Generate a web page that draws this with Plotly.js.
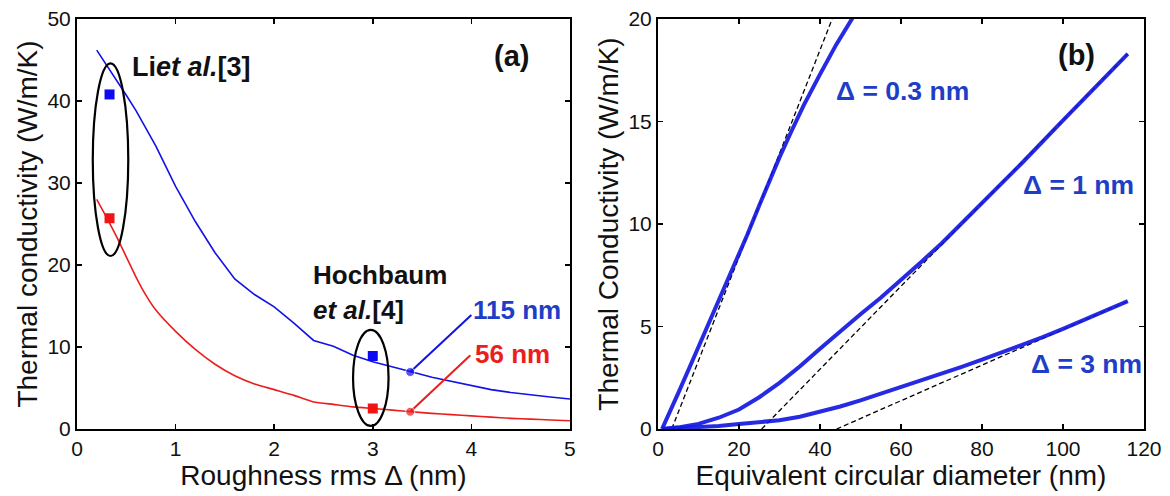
<!DOCTYPE html>
<html>
<head>
<meta charset="utf-8">
<script src="https://cdn.plot.ly/plotly-3.0.1.min.js"></script>
<style>html,body{margin:0;padding:0;background:#fff;}#chart{width:1170px;height:496px;}</style>
</head>
<body>
<div id="chart"></div>
<script>
// ---- Panel (a): thermal conductivity vs roughness ----
var roughX = [0.2,0.3,0.4,0.5,0.6,0.7,0.8,1.0,1.2,1.4,1.6,1.8,2.0,2.2,2.4,2.6,2.8,3.0,3.2,3.4,3.6,3.8,4.0,4.2,4.4,4.6,4.8,5.0];
var k115 = [46.2,44.4,42.6,40.7,38.8,36.7,34.5,29.6,25.3,21.5,18.3,16.4,14.9,12.9,10.8,10.1,9.0,8.2,7.6,6.95,6.3,5.8,5.3,4.8,4.45,4.15,3.9,3.65];
var k56  = [28.0,25.8,23.5,21.0,18.5,16.3,14.5,11.9,9.7,7.9,6.5,5.5,4.8,4.1,3.3,3.0,2.7,2.5,2.3,2.1,1.9,1.75,1.6,1.45,1.3,1.2,1.1,1.0];
var expX = [0.33, 3.0];
var exp115 = [40.8, 8.9];
var exp56 = [25.7, 2.5];
var lead115X = [3.38, 4.0], lead115Y = [6.95, 13.9];
var lead56X = [3.38, 3.99], lead56Y = [2.1, 9.0];
var ellipseLi = {x:[0.16,0.52], y:[21.1,44.6]};
var ellipseHoch = {x:[2.80,3.16], y:[0.37,12.1]};
var xTicksA = [0,1,2,3,4,5];
var yTicksA = [0,10,20,30,40,50];

// ---- Panel (b): thermal conductivity vs diameter ----
var d03X = [1,3,5,8,10,12,15,18,20,22,25,28,30,33,36,40,44,48.5];
var d03Y = [0,0.85,1.75,3.1,4.0,4.9,6.25,7.6,8.5,9.45,10.9,12.35,13.25,14.55,15.8,17.3,18.75,20.2];
var d1X = [1,5,10,15,20,25,30,35,40,45,50,55,60,65,70,80,90,100,110,116];
var d1Y = [0,0.08,0.25,0.55,0.95,1.55,2.25,3.05,3.92,4.78,5.6,6.4,7.25,8.15,9.05,11.0,13.0,15.05,17.1,18.3];
var d3X = [1,5,10,15,20,25,30,35,40,45,50,55,60,65,70,75,80,85,90,95,100,105,110,116];
var d3Y = [0,0.03,0.08,0.15,0.24,0.33,0.43,0.6,0.84,1.1,1.4,1.72,2.03,2.35,2.68,3.03,3.38,3.73,4.1,4.48,4.88,5.3,5.74,6.24];
var fit03X = [3.4, 43.0], fit03Y = [0, 20];
var fit1X = [25.6, 116], fit1Y = [0, 18.3];
var fit3X = [44.1, 116], fit3Y = [0, 6.24];
var xTicksB = [0,20,40,60,80,100,120];
var yTicksB = [0,5,10,15,20];

var FONT = 'Liberation Sans, Arial, Helvetica, sans-serif';
var BLUE = 'rgb(18,18,230)';
var RED = 'rgb(235,30,30)';
var LBLUE = 'rgb(30,62,200)';
var BBLUE = 'rgb(20,25,225)';

var traces = [
  {x: roughX, y: k115, mode:'lines', line:{color:BLUE, width:1.6}, xaxis:'x', yaxis:'y', name:'115 nm'},
  {x: roughX, y: k56, mode:'lines', line:{color:RED, width:1.6, shape:'spline', smoothing:0.5}, xaxis:'x', yaxis:'y', name:'56 nm'},
  {x: expX, y: exp115, mode:'markers', marker:{symbol:'square', size:10, color:'rgb(10,10,245)'}, xaxis:'x', yaxis:'y'},
  {x: expX, y: exp56, mode:'markers', marker:{symbol:'square', size:10, color:'rgb(240,20,20)'}, xaxis:'x', yaxis:'y'},
  {x: lead115X, y: lead115Y, mode:'lines+markers', line:{color:BLUE, width:2}, marker:{symbol:'circle', size:[9,0], color:BLUE}, xaxis:'x', yaxis:'y'},
  {x: lead56X, y: lead56Y, mode:'lines+markers', line:{color:RED, width:2}, marker:{symbol:'circle', size:[9,0], color:RED}, xaxis:'x', yaxis:'y'},
  {x: fit03X, y: fit03Y, mode:'lines', line:{color:'black', width:1.3, dash:'5px,3px'}, xaxis:'x2', yaxis:'y2'},
  {x: fit1X, y: fit1Y, mode:'lines', line:{color:'black', width:1.3, dash:'5px,3px'}, xaxis:'x2', yaxis:'y2'},
  {x: fit3X, y: fit3Y, mode:'lines', line:{color:'black', width:1.3, dash:'5px,3px'}, xaxis:'x2', yaxis:'y2'},
  {x: d03X, y: d03Y, mode:'lines', line:{color:BBLUE, width:4}, opacity:0.92, xaxis:'x2', yaxis:'y2'},
  {x: d1X, y: d1Y, mode:'lines', line:{color:BBLUE, width:4}, opacity:0.92, xaxis:'x2', yaxis:'y2'},
  {x: d3X, y: d3Y, mode:'lines', line:{color:BBLUE, width:4}, opacity:0.92, xaxis:'x2', yaxis:'y2'}
];

function axis(extra){
  var a = {showline:true, linecolor:'black', linewidth:2, mirror:'ticks', ticks:'inside', ticklen:5, tickwidth:1.5, tickcolor:'black',
    showgrid:false, zeroline:false, tickfont:{family:FONT, size:21, color:'#111'}, fixedrange:true};
  for (var k in extra) a[k] = extra[k];
  return a;
}

var TITLEFONT = {family:FONT, size:28, color:'#111'};
var layout = {
  width:1170, height:496,
  margin:{l:77, r:26, t:19, b:67},
  paper_bgcolor:'white', plot_bgcolor:'white',
  showlegend:false,
  font:{family:FONT, color:'#111'},
  xaxis: axis({domain:[0,0.462], range:[0,5], tickvals:xTicksA, anchor:'y',
    title:{text:'Roughness rms Δ (nm)', font:TITLEFONT, standoff:2}}),
  yaxis: axis({domain:[0,1], range:[0,50], tickvals:yTicksA, anchor:'x',
    title:{text:'Thermal conductivity (W/m/K)', font:TITLEFONT, standoff:2}}),
  xaxis2: axis({domain:[0.5445,1], range:[0,120], tickvals:xTicksB, anchor:'y2',
    title:{text:'Equivalent circular diameter (nm)', font:TITLEFONT, standoff:2}}),
  yaxis2: axis({domain:[0,1], range:[0,20], tickvals:yTicksB, anchor:'x2',
    title:{text:'Thermal Conductivity (W/m/K)', font:TITLEFONT, standoff:2}}),
  shapes:[
    {type:'circle', xref:'x', yref:'y', x0:ellipseLi.x[0], x1:ellipseLi.x[1], y0:ellipseLi.y[0], y1:ellipseLi.y[1], line:{color:'black', width:2.2}},
    {type:'circle', xref:'x', yref:'y', x0:ellipseHoch.x[0], x1:ellipseHoch.x[1], y0:ellipseHoch.y[0], y1:ellipseHoch.y[1], line:{color:'black', width:2.2}}
  ],
  annotations:[
    {xref:'x', yref:'y', x:0.54, y:44.1, xanchor:'left', yanchor:'middle', showarrow:false,
      text:'<b>Li<i>et al.</i>[3]</b>', font:{family:FONT, size:27, color:'#111'}},
    {xref:'x', yref:'y', x:2.37, y:18.8, xanchor:'left', yanchor:'middle', showarrow:false,
      text:'<b>Hochbaum</b>', font:{family:FONT, size:26, color:'#111'}},
    {xref:'x', yref:'y', x:2.37, y:14.5, xanchor:'left', yanchor:'middle', showarrow:false,
      text:'<b><i>et al.</i>[4]</b>', font:{family:FONT, size:26, color:'#111'}},
    {xref:'x', yref:'y', x:4.0, y:14.5, xanchor:'left', yanchor:'middle', showarrow:false,
      text:'<b>115 nm</b>', font:{family:FONT, size:26, color:LBLUE}},
    {xref:'x', yref:'y', x:4.02, y:9.1, xanchor:'left', yanchor:'middle', showarrow:false,
      text:'<b>56 nm</b>', font:{family:FONT, size:26, color:RED}},
    {xref:'x', yref:'y', x:4.6, y:45.5, xanchor:'right', yanchor:'middle', showarrow:false,
      text:'<b>(a)</b>', font:{family:FONT, size:29, color:'#111'}},
    {xref:'x2', yref:'y2', x:108.4, y:18.25, xanchor:'right', yanchor:'middle', showarrow:false,
      text:'<b>(b)</b>', font:{family:FONT, size:29, color:'#111'}},
    {xref:'x2', yref:'y2', x:43.5, y:16.5, xanchor:'left', yanchor:'middle', showarrow:false,
      text:'<b>Δ = 0.3 nm</b>', font:{family:FONT, size:26.5, color:LBLUE}},
    {xref:'x2', yref:'y2', x:89.6, y:11.9, xanchor:'left', yanchor:'middle', showarrow:false,
      text:'<b>Δ = 1 nm</b>', font:{family:FONT, size:26.5, color:LBLUE}},
    {xref:'x2', yref:'y2', x:91.7, y:3.16, xanchor:'left', yanchor:'middle', showarrow:false,
      text:'<b>Δ = 3 nm</b>', font:{family:FONT, size:26.5, color:LBLUE}}
  ]
};

Plotly.newPlot('chart', traces, layout, {staticPlot:true, displayModeBar:false});
</script>
</body>
</html>
